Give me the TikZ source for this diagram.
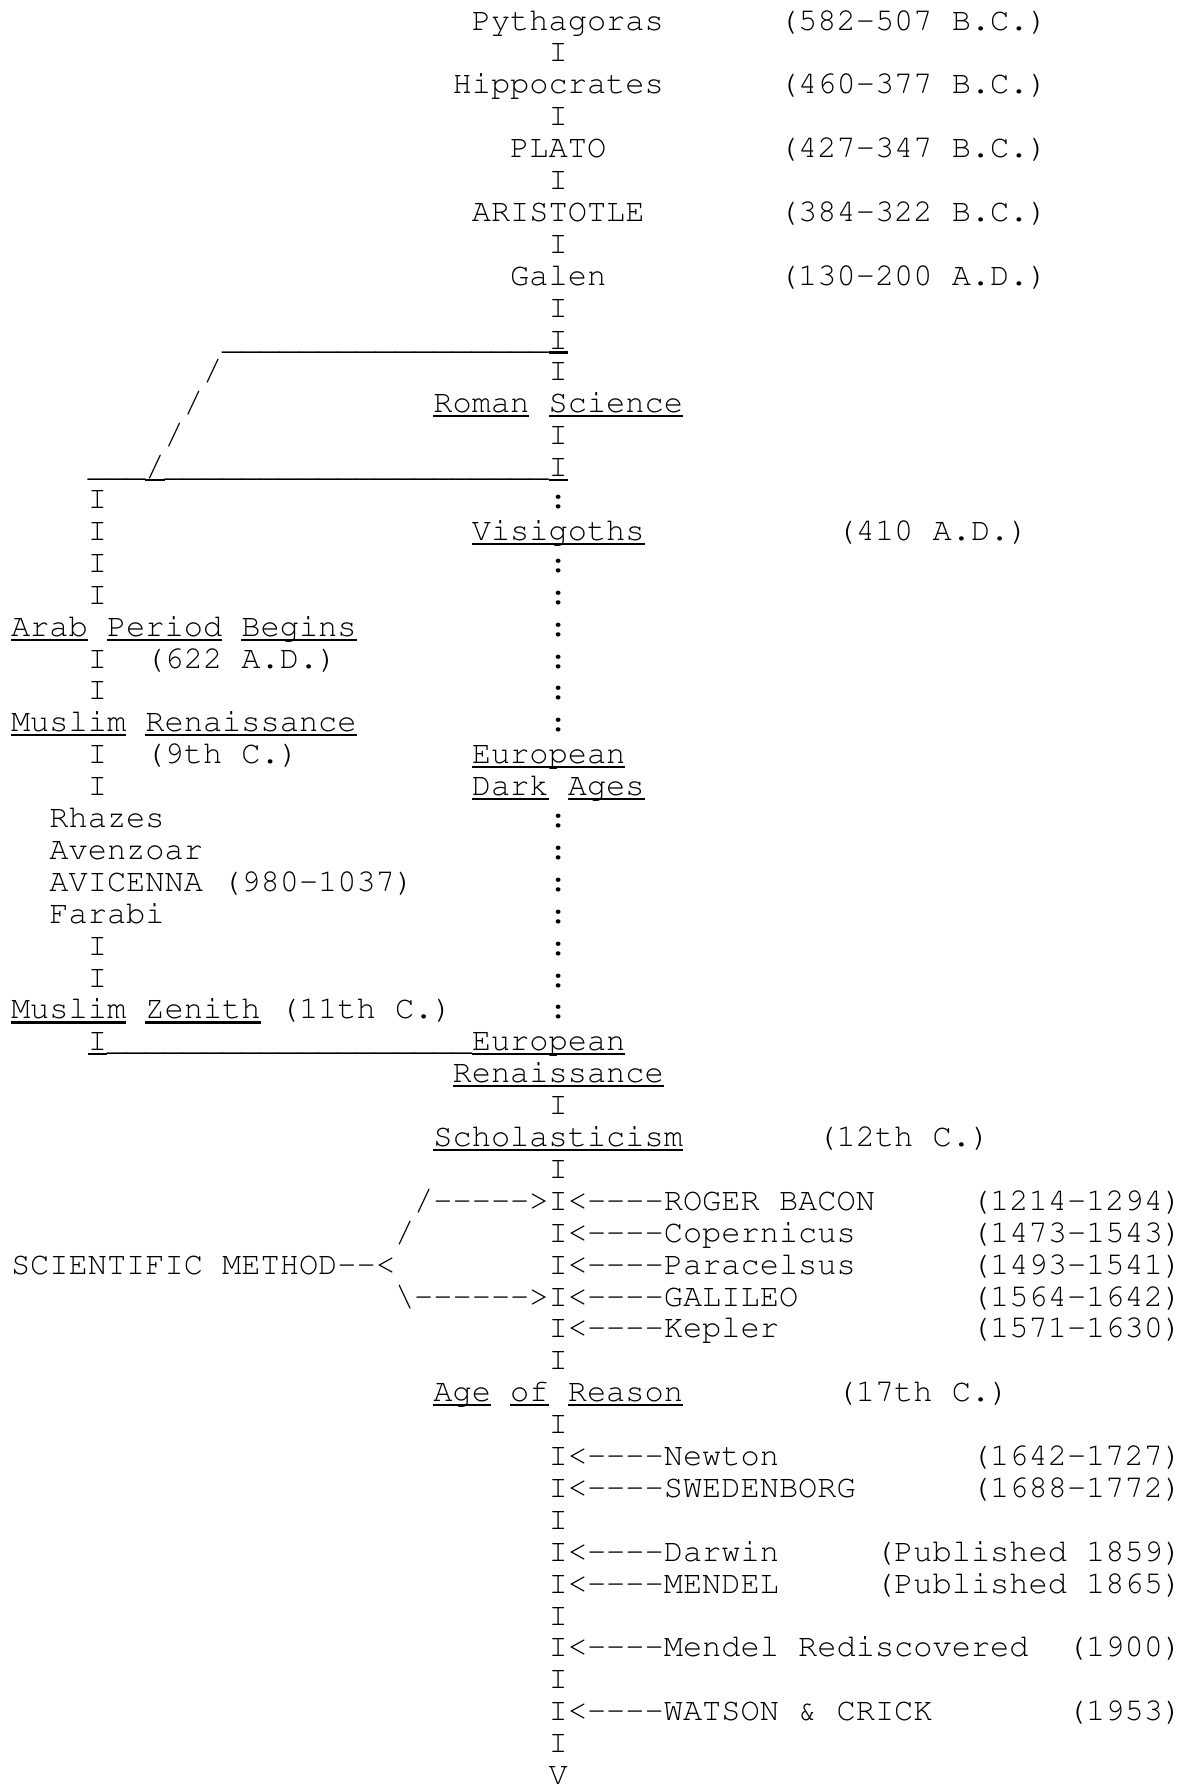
\documentclass[tikz,border=0pt]{standalone}
\usepackage[T1]{fontenc}
\usepackage{courier}
\tikzset{
  txt/.style={anchor=base west, inner sep=0pt, outer sep=0pt, font=\ttfamily\fontsize{16}{16}\selectfont},
  ul/.style={line width=1.1pt, black}
}
\newcommand\T[4]{\node[txt] (#1) at (5.5pt+#2*9.6pt, -15pt-#3*15.95pt+15.95pt) {#4};}
\newcommand\U[4]{\T{#1}{#2}{#3}{#4}\draw[ul] ([yshift=-1.75pt]#1.base west) -- ([yshift=-1.75pt]#1.base east);}
\begin{document}
\begin{tikzpicture}
\path[fill=white] (0,0) rectangle (592pt,-894pt);
\useasboundingbox (0,0) rectangle (592pt,-894pt);
% top chain
\T{pyth}{24}{1}{Pythagoras}\T{pythd}{40}{1}{(582-507 B.C.)}
\T{i2}{28}{2}{I}
\T{hipp}{23}{3}{Hippocrates}\T{hippd}{40}{3}{(460-377 B.C.)}
\T{i4}{28}{4}{I}
\T{plato}{26}{5}{PLATO}\T{platod}{40}{5}{(427-347 B.C.)}
\T{i6}{28}{6}{I}
\T{arist}{24}{7}{ARISTOTLE}\T{aristd}{40}{7}{(384-322 B.C.)}
\T{i8}{28}{8}{I}
\T{galen}{26}{9}{Galen}\T{galend}{40}{9}{(130-200 A.D.)}
\T{i10}{28}{10}{I}
% branch
\T{us11}{11}{11}{\_\_\_\_\_\_\_\_\_\_\_\_\_\_\_\_\_}\U{i11}{28}{11}{I}
\T{s12}{10}{12}{/}\T{i12}{28}{12}{I}
\T{s13}{9}{13}{/}\U{roman}{22}{13}{Roman}\U{science}{28}{13}{Science}
\T{s14}{8}{14}{/}\T{i14}{28}{14}{I}
\T{us15a}{4}{15}{\_\_\_}\U{s15}{7}{15}{/}\T{us15b}{8}{15}{\_\_\_\_\_\_\_\_\_\_\_\_\_\_\_\_\_\_\_\_}\U{i15}{28}{15}{I}
\T{l16}{4}{16}{I}\T{c16}{28}{16}{:}
\T{l17}{4}{17}{I}\U{visi}{24}{17}{Visigoths}\T{visid}{43}{17}{(410 A.D.)}
\T{l18}{4}{18}{I}\T{c18}{28}{18}{:}
\T{l19}{4}{19}{I}\T{c19}{28}{19}{:}
\U{arab}{0}{20}{Arab}\U{period}{5}{20}{Period}\U{begins}{12}{20}{Begins}\T{c20}{28}{20}{:}
\T{l21}{4}{21}{I}\T{arabd}{7}{21}{(622 A.D.)}\T{c21}{28}{21}{:}
\T{l22}{4}{22}{I}\T{c22}{28}{22}{:}
\U{muslim}{0}{23}{Muslim}\U{mren}{7}{23}{Renaissance}\T{c23}{28}{23}{:}
\T{l24}{4}{24}{I}\T{mrend}{7}{24}{(9th C.)}\U{euro}{24}{24}{European}
\T{l25}{4}{25}{I}\U{dark}{24}{25}{Dark}\U{ages}{29}{25}{Ages}
\T{rhazes}{2}{26}{Rhazes}\T{c26}{28}{26}{:}
\T{avenz}{2}{27}{Avenzoar}\T{c27}{28}{27}{:}
\T{avic}{2}{28}{AVICENNA (980-1037)}\T{c28}{28}{28}{:}
\T{farabi}{2}{29}{Farabi}\T{c29}{28}{29}{:}
\T{l30}{4}{30}{I}\T{c30}{28}{30}{:}
\T{l31}{4}{31}{I}\T{c31}{28}{31}{:}
\U{muslimz}{0}{32}{Muslim}\U{zenith}{7}{32}{Zenith}\T{zenithd}{14}{32}{(11th C.)}\T{c32}{28}{32}{:}
\U{l33}{4}{33}{I}\T{us33}{5}{33}{\_\_\_\_\_\_\_\_\_\_\_\_\_\_\_\_\_\_\_}\U{euro2}{24}{33}{European}
\U{eren}{23}{34}{Renaissance}
\T{i35}{28}{35}{I}
\U{schol}{22}{36}{Scholasticism}\T{schold}{42}{36}{(12th C.)}
\T{i37}{28}{37}{I}
% scientific method
\T{bacon}{21}{38}{/-{}-{}-{}-{}->I<-{}-{}-{}-ROGER BACON}\T{bacond}{50}{38}{(1214-1294)}
\T{s39}{20}{39}{/}\T{copern}{28}{39}{I<-{}-{}-{}-Copernicus}\T{copernd}{50}{39}{(1473-1543)}
\T{sci}{0}{40}{SCIENTIFIC METHOD-{}-<}\T{parac}{28}{40}{I<-{}-{}-{}-Paracelsus}\T{paracd}{50}{40}{(1493-1541)}
\T{galil}{20}{41}{\textbackslash-{}-{}-{}-{}-{}->I<-{}-{}-{}-GALILEO}\T{galild}{50}{41}{(1564-1642)}
\T{kepler}{28}{42}{I<-{}-{}-{}-Kepler}\T{keplerd}{50}{42}{(1571-1630)}
\T{i43}{28}{43}{I}
\U{age}{22}{44}{Age}\U{of}{26}{44}{of}\U{reason}{29}{44}{Reason}\T{reasond}{43}{44}{(17th C.)}
\T{i45}{28}{45}{I}
\T{newton}{28}{46}{I<-{}-{}-{}-Newton}\T{newtond}{50}{46}{(1642-1727)}
\T{swed}{28}{47}{I<-{}-{}-{}-SWEDENBORG}\T{swedd}{50}{47}{(1688-1772)}
\T{i48}{28}{48}{I}
\T{darwin}{28}{49}{I<-{}-{}-{}-Darwin}\T{darwind}{45}{49}{(Published 1859)}
\T{mendel}{28}{50}{I<-{}-{}-{}-MENDEL}\T{mendeld}{45}{50}{(Published 1865)}
\T{i51}{28}{51}{I}
\T{mredis}{28}{52}{I<-{}-{}-{}-Mendel Rediscovered}\T{mredisd}{55}{52}{(1900)}
\T{i53}{28}{53}{I}
\T{watson}{28}{54}{I<-{}-{}-{}-WATSON \& CRICK}\T{watsond}{55}{54}{(1953)}
\T{i55}{28}{55}{I}
\T{v56}{28}{56}{V}
\end{tikzpicture}
\end{document}
